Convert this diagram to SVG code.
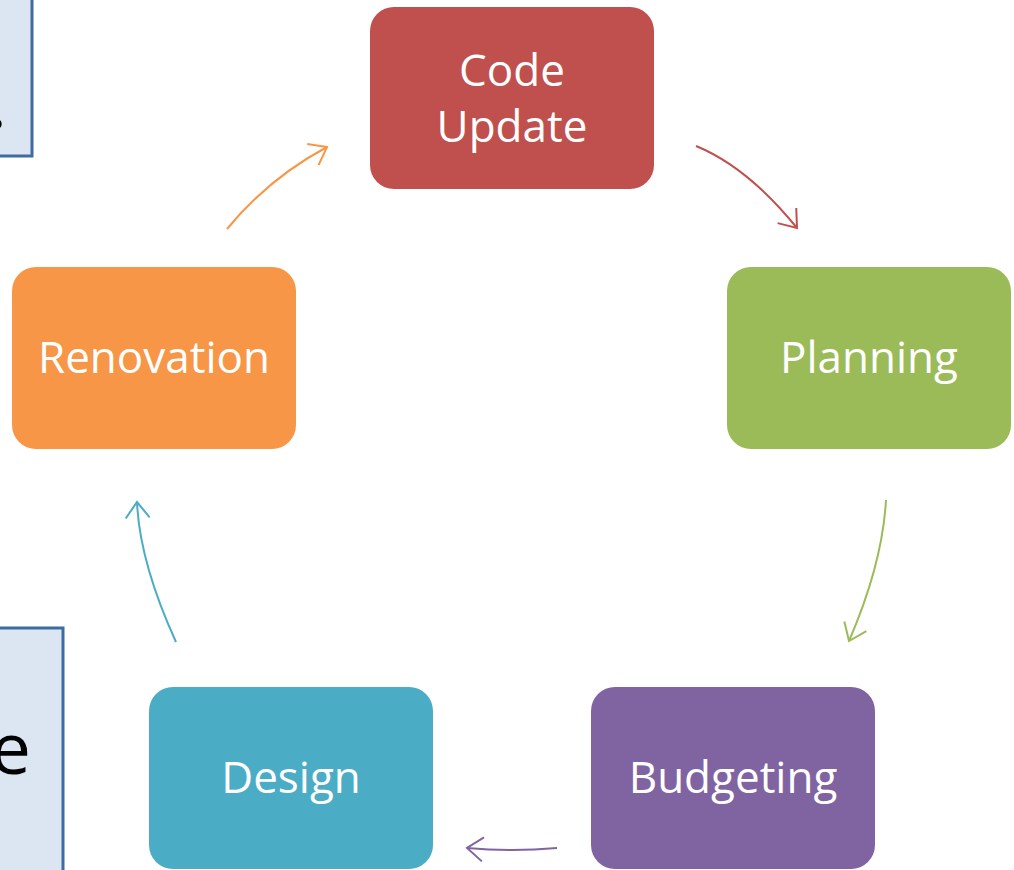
<svg xmlns="http://www.w3.org/2000/svg" width="1014" height="870" viewBox="0 0 1014 870">
<style>
.node rect{stroke:none}
.lbl{font-family:"Open Sans","Noto Sans","Liberation Sans",sans-serif;font-size:44px;fill:#fff;text-anchor:middle}
.side{fill:#DCE6F2;stroke:#3F6BA3;stroke-width:3}
.sidetxt{font-family:"Open Sans","Noto Sans","Liberation Sans",sans-serif;font-size:72px;fill:#000}
.conn path{fill:none;stroke-width:2}
</style>
<defs>
<marker id="mOr" viewBox="-20 -14 24 28" refX="0" refY="0" markerWidth="24" markerHeight="28" markerUnits="userSpaceOnUse" orient="auto"><path d="M-16,-12 L0,0 L-16,12" fill="none" stroke="#F79646" stroke-width="2"/></marker>
<marker id="mRd" viewBox="-20 -14 24 28" refX="0" refY="0" markerWidth="24" markerHeight="28" markerUnits="userSpaceOnUse" orient="auto"><path d="M-16,-12 L0,0 L-16,12" fill="none" stroke="#C0504D" stroke-width="2"/></marker>
<marker id="mGr" viewBox="-20 -14 24 28" refX="0" refY="0" markerWidth="24" markerHeight="28" markerUnits="userSpaceOnUse" orient="auto"><path d="M-16,-12 L0,0 L-16,12" fill="none" stroke="#9BBB59" stroke-width="2"/></marker>
<marker id="mPu" viewBox="-20 -14 24 28" refX="0" refY="0" markerWidth="24" markerHeight="28" markerUnits="userSpaceOnUse" orient="auto"><path d="M-16,-12 L0,0 L-16,12" fill="none" stroke="#8064A2" stroke-width="2"/></marker>
<marker id="mTl" viewBox="-20 -14 24 28" refX="0" refY="0" markerWidth="24" markerHeight="28" markerUnits="userSpaceOnUse" orient="auto"><path d="M-16,-12 L0,0 L-16,12" fill="none" stroke="#4BACC6" stroke-width="2"/></marker>
</defs>
<rect width="1014" height="870" fill="#fff"/>
<g id="side-top">
<rect class="side" x="-10" y="-10" width="42" height="166"/>
<text class="sidetxt" x="-12" y="128">.</text>
</g>
<g id="side-bottom">
<rect class="side" x="-10" y="628" width="73" height="260"/>
<text class="sidetxt" x="31" y="774" text-anchor="end">re</text>
</g>
<g class="conn" id="connectors">
<path d="M227,229 Q269,178 327,147" stroke="#F79646" marker-end="url(#mOr)"/>
<path d="M696,146 Q747.5,167 797,228" stroke="#C0504D" marker-end="url(#mRd)"/>
<path d="M886,500 Q882.5,563.5 849,641" stroke="#9BBB59" marker-end="url(#mGr)"/>
<path d="M557,848 Q512,852 467,848" stroke="#8064A2" marker-end="url(#mPu)"/>
<path d="M176,642 Q139.5,562 137,502" stroke="#4BACC6" marker-end="url(#mTl)"/>
</g>
<g class="node" id="code-update">
<rect x="370" y="7" width="284" height="182" rx="24" fill="#C0504D"/>
<text class="lbl" x="512" y="86">Code</text>
<text class="lbl" x="512" y="142">Update</text>
</g>
<g class="node" id="planning">
<rect x="727" y="267" width="284" height="182" rx="24" fill="#9BBB59"/>
<text class="lbl" x="869" y="373">Planning</text>
</g>
<g class="node" id="budgeting">
<rect x="591" y="687" width="284" height="182" rx="24" fill="#8064A2"/>
<text class="lbl" x="733" y="793">Budgeting</text>
</g>
<g class="node" id="design">
<rect x="149" y="687" width="284" height="182" rx="24" fill="#4BACC6"/>
<text class="lbl" x="291" y="793">Design</text>
</g>
<g class="node" id="renovation">
<rect x="12" y="267" width="284" height="182" rx="24" fill="#F79646"/>
<text class="lbl" x="154" y="373">Renovation</text>
</g>
</svg>
